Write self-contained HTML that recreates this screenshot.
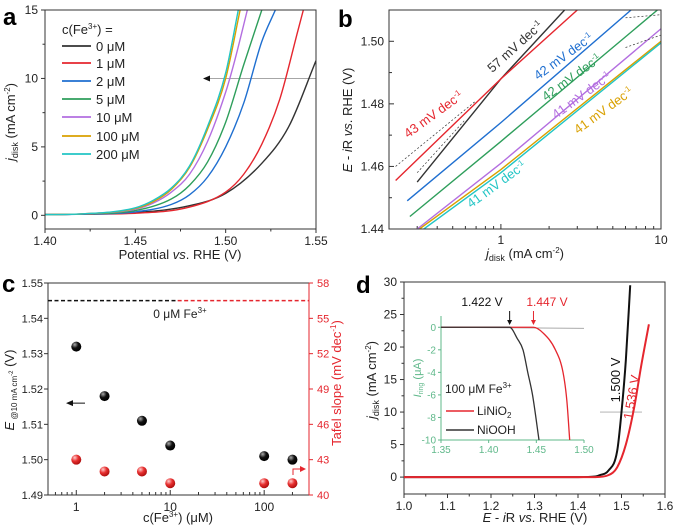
<!DOCTYPE html>
<html><head><meta charset="utf-8"><style>
html,body{margin:0;padding:0;background:#fff;}
svg{display:block;font-family:"Liberation Sans",Arial,sans-serif;}
</style></head><body>
<svg id="fig" width="673" height="532" viewBox="0 0 673 532" xmlns="http://www.w3.org/2000/svg"></svg>
<script>
// ---------- DATA ----------
const aNames = ["0 μM","1 μM","2 μM","5 μM","10 μM","100 μM","200 μM"];
const aE0 = [1.40,1.42,1.45,1.48,1.50,1.52,1.535,1.55];
const aJ0 = [0.05,0.08,0.2,0.7,1.6,3.8,6.5,11.3];
const aE1 = [1.40,1.42,1.45,1.48,1.50,1.51,1.52,1.53,1.54,1.543];
const aJ1 = [0.05,0.08,0.15,0.6,1.7,3.0,5.2,8.5,13.5,15];
const aE2 = [1.40,1.42,1.45,1.47,1.48,1.49,1.50,1.51,1.52,1.5275];
const aJ2 = [0.05,0.08,0.25,0.8,1.5,2.8,5.0,8.2,12.7,15];
const aE5 = [1.40,1.42,1.45,1.47,1.48,1.49,1.50,1.51,1.52];
const aJ5 = [0.05,0.1,0.35,1.2,2.2,3.9,6.8,11,15];
const aE10 = [1.40,1.42,1.45,1.46,1.47,1.48,1.49,1.50,1.505,1.512];
const aJ10 = [0.05,0.1,0.45,0.9,1.7,3.0,5.4,9.0,11.3,15];
const aE100 = [1.40,1.42,1.45,1.46,1.47,1.48,1.49,1.50,1.508];
const aJ100 = [0.05,0.1,0.5,1.0,1.9,3.5,6.3,10.0,15];
const aE200 = [1.40,1.42,1.45,1.46,1.47,1.48,1.49,1.50,1.507];
const aJ200 = [0.05,0.1,0.55,1.1,2.0,3.6,6.5,10.4,15];
const bJ = [[0.3,1,2.5],[0.22,1,3],[0.26,1,6.5],[0.27,1,9.5],[0.3,1,10],[0.31,1,10],[0.33,1,10]];
const bE = [[1.455,1.488,1.51],[1.4555,1.488,1.51],[1.449,1.474,1.51],[1.444,1.468,1.51],[1.44,1.461,1.504],[1.44,1.459,1.50],[1.44,1.458,1.4995]];
const bSlopes = ["57","43","42","42","41","41","41"];
const cConc = [1,2,5,10,100,200];
const cE10 = [1.532,1.518,1.511,1.504,1.501,1.500];
const cTafel = [43,42,42,41,41,41];
const cRefE = 1.545;
const cRefTafel = 56.5;
const dE_Ni = [1.0,1.40,1.44,1.45,1.47,1.49,1.50,1.51,1.52];
const dJ_Ni = [0,0,0.1,0.3,1,4,10,18,29.5];
const dE_Li = [1.0,1.44,1.47,1.49,1.51,1.53,1.545,1.563];
const dJ_Li = [0,0,0.3,1.5,5,11,17,23.5];
const iE_Ni = [1.35,1.42,1.422,1.43,1.436,1.441,1.446,1.4528];
const iI_Ni = [0,0,0,-1.0,-2,-4,-6,-10];
const iE_Li = [1.35,1.447,1.457,1.47,1.478,1.482,1.485];
const iI_Li = [0,0,-0.5,-2,-4,-6.5,-10];

const COL = ["#333333","#e5262e","#1f6fd0","#2e9e5b","#b36ee0","#d9a000","#22c5c5"];
const NS="http://www.w3.org/2000/svg";
const svg=document.getElementById('fig');
function mk(tag,attrs,parent){const e=document.createElementNS(NS,tag);for(const k in attrs)e.setAttribute(k,attrs[k]);(parent||svg).appendChild(e);return e;}
function txt(x,y,s,opt,parent){opt=opt||{};const t=mk('text',{x:x,y:y,'font-size':opt.fs||12,fill:opt.fill||'#222','text-anchor':opt.anchor||'middle'},parent);if(opt.rot!==undefined)t.setAttribute('transform','rotate('+opt.rot+' '+x+' '+y+')');if(opt.weight)t.setAttribute('font-weight',opt.weight);t.innerHTML=s;return t;}
function lin(d0,d1,p0,p1){return v=>p0+(v-d0)/(d1-d0)*(p1-p0);}
function lg(d0,d1,p0,p1){return v=>p0+(Math.log10(v)-Math.log10(d0))/(Math.log10(d1)-Math.log10(d0))*(p1-p0);}
function path(xs,ys,X,Y,color,w,dash,parent){let d='';for(let i=0;i<xs.length;i++)d+=(i?'L':'M')+X(xs[i]).toFixed(2)+' '+Y(ys[i]).toFixed(2);const p=mk('path',{d:d,fill:'none',stroke:color,'stroke-width':w||1.4,'stroke-linejoin':'round'},parent);if(dash)p.setAttribute('stroke-dasharray',dash);return p;}
// monotone cubic in pixel space
function spath(xs,ys,X,Y,color,w,parent){
const px=xs.map(X),py=ys.map(Y),n=px.length;
const dl=[],m=[];
for(let i=0;i<n-1;i++)dl.push((py[i+1]-py[i])/(px[i+1]-px[i]));
m[0]=dl[0];m[n-1]=dl[n-2];
for(let i=1;i<n-1;i++){m[i]=(dl[i-1]*dl[i]<=0)?0:(dl[i-1]+dl[i])/2;}
for(let i=0;i<n-1;i++){if(dl[i]===0){m[i]=0;m[i+1]=0;continue;}const a=m[i]/dl[i],b=m[i+1]/dl[i],s=a*a+b*b;if(s>9){const t=3/Math.sqrt(s);m[i]=t*a*dl[i];m[i+1]=t*b*dl[i];}}
let d='M'+px[0].toFixed(2)+' '+py[0].toFixed(2);
for(let i=0;i<n-1;i++){const h=(px[i+1]-px[i])/3;d+='C'+(px[i]+h).toFixed(2)+' '+(py[i]+m[i]*h).toFixed(2)+' '+(px[i+1]-h).toFixed(2)+' '+(py[i+1]-m[i+1]*h).toFixed(2)+' '+px[i+1].toFixed(2)+' '+py[i+1].toFixed(2);}
return mk('path',{d:d,fill:'none',stroke:color,'stroke-width':w||1.4,'stroke-linejoin':'round'},parent);}
function box(x0,y0,x1,y1,g,col){mk('rect',{x:x0,y:y0,width:x1-x0,height:y1-y0,fill:'none',stroke:col||'#333','stroke-width':1},g);}
function clip(id,x0,y0,x1,y1){const c=mk('clipPath',{id:id});mk('rect',{x:x0,y:y0,width:x1-x0,height:y1-y0},c);return 'url(#'+id+')';}

// ================= PANEL A =================
{
const g=mk('g',{});


const L=45,R=316,T=10,B=229;
const X=lin(1.40,1.55,L,R),Y=lin(-1,15,B,T);
[1.40,1.45,1.50,1.55].forEach(v=>{mk('line',{x1:X(v),x2:X(v),y1:B,y2:B+4,stroke:'#333'},g);txt(X(v),B+16,v.toFixed(2),{},g);});
[1.425,1.475,1.525].forEach(v=>mk('line',{x1:X(v),x2:X(v),y1:B,y2:B+2.5,stroke:'#333'},g));
[0,5,10,15].forEach(v=>{mk('line',{x1:L-4,x2:L,y1:Y(v),y2:Y(v),stroke:'#333'},g);txt(L-7,Y(v)+4,v,{anchor:'end'},g);});
[2.5,7.5,12.5].forEach(v=>mk('line',{x1:L-2.5,x2:L,y1:Y(v),y2:Y(v),stroke:'#333'},g));
const cp=clip('ca',L,T,R,B);
const cg=mk('g',{'clip-path':cp},g);
mk('line',{x1:208,x2:R,y1:Y(10),y2:Y(10),stroke:'#999','stroke-width':0.8},cg);
mk('path',{d:'M203 '+Y(10)+' l7 -3 v6 z',fill:'#111'},g);
const Es=[aE0,aE1,aE2,aE5,aE10,aE100,aE200],Js=[aJ0,aJ1,aJ2,aJ5,aJ10,aJ100,aJ200];
for(let i=0;i<7;i++){const p=spath(Es[i],Js[i],X,Y,COL[i],1.4,cg);

}
box(L,T,R,B,g);
txt(62,34,'c(Fe<tspan font-size="8" dy="-5">3+</tspan><tspan dy="5">) =</tspan>',{anchor:'start',fs:13},g);
const ly=[46,63,81,99,117,136,154];
for(let i=0;i<7;i++){
const le=mk('g',{},g);


mk('line',{x1:62,x2:91,y1:ly[i],y2:ly[i],stroke:COL[i],'stroke-width':1.8},le);
txt(96,ly[i]+5,aNames[i],{anchor:'start',fs:13},le);}
txt(180,259,'Potential <tspan font-style="italic">vs</tspan>. RHE  (V)',{fs:13},g);
txt(15,122,'<tspan font-style="italic">j</tspan><tspan font-size="9" dy="3">disk</tspan><tspan dy="-3">  (mA cm</tspan><tspan font-size="8" dy="-5">-2</tspan><tspan dy="5">)</tspan>',{fs:13,rot:-90},g);
txt(3,25,'a',{fs:24,weight:'bold',anchor:'start',fill:'#000'},g);
}

// ================= PANEL B =================
{
const g=mk('g',{});


const L=389,R=661,T=10,B=229;
const X=lg(0.2,10,L,R),Y=lin(1.44,1.51,B,T);
[1,10].forEach(v=>{txt(X(v),B+15,v,{},g);mk('line',{x1:X(v),x2:X(v),y1:B,y2:B-5,stroke:'#333'},g);});
[0.3,0.4,0.5,0.6,0.7,0.8,0.9,2,3,4,5,6,7,8,9].forEach(v=>mk('line',{x1:X(v),x2:X(v),y1:B,y2:B-3,stroke:'#333'},g));
[1.44,1.46,1.48,1.50].forEach(v=>{mk('line',{x1:L,x2:L+5,y1:Y(v),y2:Y(v),stroke:'#333'},g);txt(L-5,Y(v)+4,v.toFixed(2),{anchor:'end'},g);});
[1.45,1.47,1.49].forEach(v=>mk('line',{x1:L,x2:L+3,y1:Y(v),y2:Y(v),stroke:'#333'},g));
const cg=mk('g',{'clip-path':clip('cb',L,T,R,B)},g);
for(let i=0;i<7;i++){const p=path(bJ[i],bE[i],X,Y,COL[i],1.4,null,cg);

}
path([0.22,0.7],[1.46,1.481],X,Y,'#333',0.7,'2,2',cg);
path([0.3,0.6],[1.458,1.475],X,Y,'#333',0.7,'2,2',cg);
path([6,10],[1.5075,1.5085],X,Y,'#333',0.7,'2,2',cg);
path([6,10],[1.498,1.502],X,Y,'#333',0.7,'2,2',cg);
box(L,T,R,B,g);
const lab=[[518,50,-42],[436,118,-36],[566,60,-36],[574,81,-36],[584,99,-36],[606,114,-36],[499,188,-36]];
for(let i=0;i<7;i++){const t=txt(lab[i][0],lab[i][1],bSlopes[i]+' mV dec<tspan font-size="8" dy="-5">-1</tspan>',{fs:13,fill:COL[i],rot:lab[i][2]},g);

}
txt(525,258,'<tspan font-style="italic">j</tspan><tspan font-size="9" dy="3">disk</tspan><tspan dy="-3">  (mA cm</tspan><tspan font-size="8" dy="-5">-2</tspan><tspan dy="5">)</tspan>',{fs:13},g);
txt(352,120,'<tspan font-style="italic">E</tspan> - <tspan font-style="italic">i</tspan>R <tspan font-style="italic">vs</tspan>. RHE  (V)',{fs:13,rot:-90},g);
txt(338,27,'b',{fs:24,weight:'bold',anchor:'start',fill:'#000'},g);
}

// ================= PANEL C =================
{
const g=mk('g',{});


const L=48,R=309,T=283,B=495;
const X=lg(0.5,300,L,R),Y=lin(1.49,1.55,B,T),Y2=lin(40,58,B,T);
const RED='#e5262e';
[1,10,100].forEach(v=>{mk('line',{x1:X(v),x2:X(v),y1:B,y2:B-5,stroke:'#333'},g);txt(X(v),B+16,v,{},g);});
[0.6,0.7,0.8,0.9,2,3,4,5,6,7,8,9,20,30,40,50,60,70,80,90,200].forEach(v=>mk('line',{x1:X(v),x2:X(v),y1:B,y2:B-3,stroke:'#333'},g));
[1.49,1.50,1.51,1.52,1.53,1.54,1.55].forEach(v=>{mk('line',{x1:L,x2:L-4,y1:Y(v),y2:Y(v),stroke:'#333'},g);txt(L-5,Y(v)+4,v.toFixed(2),{anchor:'end',fs:11},g);});
[40,43,46,49,52,55,58].forEach(v=>{mk('line',{x1:R,x2:R+4,y1:Y2(v),y2:Y2(v),stroke:RED},g);txt(R+8,Y2(v)+4,v,{anchor:'start',fs:11,fill:RED},g);});
mk('line',{x1:L,x2:R,y1:T,y2:T,stroke:'#333'},g);
mk('line',{x1:L,x2:R,y1:B,y2:B,stroke:'#333'},g);
mk('line',{x1:L,x2:L,y1:T,y2:B,stroke:'#333'},g);
mk('line',{x1:R,x2:R,y1:T,y2:B,stroke:RED},g);
mk('line',{x1:L,x2:X(12),y1:Y(cRefE),y2:Y(cRefE),stroke:'#111','stroke-width':1.5,'stroke-dasharray':'4,2.5'},g);
mk('line',{x1:X(12),x2:R,y1:Y2(cRefTafel),y2:Y2(cRefTafel),stroke:RED,'stroke-width':1.5,'stroke-dasharray':'4,2.5'},g);
txt(180,318,'0 μM Fe<tspan font-size="8" dy="-5">3+</tspan>',{fs:12},g);
const defs=mk('defs',{});
const gb=mk('radialGradient',{id:'gb',cx:'0.35',cy:'0.3',r:'0.7'},defs);
mk('stop',{offset:'0','stop-color':'#aaa'},gb);mk('stop',{offset:'0.5','stop-color':'#111'},gb);mk('stop',{offset:'1','stop-color':'#000'},gb);
const gr=mk('radialGradient',{id:'gr',cx:'0.35',cy:'0.3',r:'0.7'},defs);
mk('stop',{offset:'0','stop-color':'#fcc'},gr);mk('stop',{offset:'0.5','stop-color':'#e83030'},gr);mk('stop',{offset:'1','stop-color':'#b01010'},gr);
for(let i=0;i<cConc.length;i++){
const p=mk('circle',{cx:X(cConc[i]),cy:Y(cE10[i]),r:5,fill:'url(#gb)'},g);


const q=mk('circle',{cx:X(cConc[i]),cy:Y2(cTafel[i]),r:5,fill:'url(#gr)'},g);

}
mk('line',{x1:72,x2:85,y1:Y(1.516),y2:Y(1.516),stroke:'#111'},g);
mk('path',{d:'M66 '+Y(1.516)+' l7 -3 v6 z',fill:'#111'},g);
mk('path',{d:'M293 475 v-6 h8',fill:'none',stroke:RED},g);
mk('path',{d:'M306 469 l-6 -3 v6 z',fill:RED},g);
txt(178,522,'c(Fe<tspan font-size="8" dy="-5">3+</tspan><tspan dy="5">)  (μM)</tspan>',{fs:13},g);
txt(14,390,'<tspan font-style="italic">E</tspan><tspan font-size="8" dy="3"> @10 mA cm</tspan><tspan font-size="6" dy="-4">-2</tspan><tspan dy="1">  (V)</tspan>',{fs:13,rot:-90},g);
txt(341,383,'Tafel slope  (mV dec<tspan font-size="8" dy="-5">-1</tspan><tspan dy="5">)</tspan>',{fs:13,rot:-90,fill:RED},g);
txt(2,292,'c',{fs:24,weight:'bold',anchor:'start',fill:'#000'},g);
}

// ================= PANEL D =================
{
const g=mk('g',{});


const L=404,R=665,T=282,B=494;
const X=lin(1.0,1.6,L,R),Y=lin(-2.6,30,B,T);
[1.0,1.1,1.2,1.3,1.4,1.5,1.6].forEach(v=>{mk('line',{x1:X(v),x2:X(v),y1:B,y2:B+4,stroke:'#333'},g);txt(X(v),B+16,v.toFixed(1),{},g);});
[1.05,1.15,1.25,1.35,1.45,1.55].forEach(v=>mk('line',{x1:X(v),x2:X(v),y1:B,y2:B+2.5,stroke:'#333'},g));
[0,5,10,15,20,25,30].forEach(v=>{mk('line',{x1:L,x2:L-4,y1:Y(v),y2:Y(v),stroke:'#333'},g);txt(L-7,Y(v)+4,v,{anchor:'end'},g);});
[2.5,7.5,12.5,17.5,22.5,27.5].forEach(v=>mk('line',{x1:L,x2:L-2.5,y1:Y(v),y2:Y(v),stroke:'#333'},g));
box(L,T,R,B,g);
mk('line',{x1:600,x2:642,y1:Y(10),y2:Y(10),stroke:'#aaa','stroke-width':0.8},g);
let p=spath(dE_Ni,dJ_Ni,X,Y,'#111',2,g);


p=spath(dE_Li,dJ_Li,X,Y,'#e5262e',2,g);


txt(620,380,'1.500 V',{fs:13,rot:-90,fill:'#111'},g);
txt(636,398,'1.536 V',{fs:13,rot:-80,fill:'#e5262e'},g);
const ig=mk('g',{},g);


const GR='#5fb88a';
const iL=441,iR=584,iT=316,iB=440;
const XI=lin(1.35,1.50,iL,iR),YI=lin(-10,1,iB,iT);
mk('line',{x1:iL,x2:iL,y1:iT,y2:iB,stroke:GR},ig);
mk('line',{x1:iL,x2:iR,y1:iB,y2:iB,stroke:GR},ig);
[1.35,1.40,1.45,1.50].forEach(v=>{mk('line',{x1:XI(v),x2:XI(v),y1:iB,y2:iB+3,stroke:GR},ig);txt(XI(v),iB+13,v.toFixed(2),{fs:10,fill:GR},ig);});
[0,-2,-4,-6,-8,-10].forEach(v=>{mk('line',{x1:iL,x2:iL-3,y1:YI(v),y2:YI(v),stroke:GR},ig);txt(iL-5,YI(v)+3.5,v,{fs:10,fill:GR,anchor:'end'},ig);});
mk('line',{x1:XI(1.35),x2:XI(1.50),y1:YI(0),y2:YI(-0.1),stroke:'#aaa','stroke-width':1},ig);
spath(iE_Li,iI_Li,XI,YI,'#e5262e',1.3,ig);
spath(iE_Ni,iI_Ni,XI,YI,'#333',1.3,ig);
mk('line',{x1:XI(1.422),x2:XI(1.422),y1:311,y2:322,stroke:'#111'},ig);
mk('path',{d:'M'+(XI(1.422)-2.5)+' 320 l2.5 5 l2.5 -5 z',fill:'#111'},ig);
mk('line',{x1:XI(1.447),x2:XI(1.447),y1:311,y2:322,stroke:'#e5262e'},ig);
mk('path',{d:'M'+(XI(1.447)-2.5)+' 320 l2.5 5 l2.5 -5 z',fill:'#e5262e'},ig);
txt(482,306,'1.422 V',{fs:12,fill:'#111'},ig);
txt(547,306,'1.447 V',{fs:12,fill:'#e5262e'},ig);
txt(445,393,'100 μM Fe<tspan font-size="8" dy="-5">3+</tspan>',{fs:12,anchor:'start'},ig);
mk('line',{x1:446,x2:474,y1:411,y2:411,stroke:'#e5262e','stroke-width':1.5},ig);
txt(477,415,'LiNiO<tspan font-size="8" dy="3">2</tspan>',{fs:12,anchor:'start'},ig);
mk('line',{x1:446,x2:474,y1:430,y2:430,stroke:'#333','stroke-width':1.5},ig);
txt(477,434,'NiOOH',{fs:12,anchor:'start'},ig);
txt(421,378,'<tspan font-style="italic">I</tspan><tspan font-size="7" dy="2">ring</tspan><tspan dy="-2">  (μA)</tspan>',{fs:11,rot:-90,fill:GR},ig);
txt(535,522,'<tspan font-style="italic">E</tspan> - <tspan font-style="italic">i</tspan>R <tspan font-style="italic">vs</tspan>. RHE  (V)',{fs:13},g);
txt(376,380,'<tspan font-style="italic">j</tspan><tspan font-size="9" dy="3">disk</tspan><tspan dy="-3">  (mA cm</tspan><tspan font-size="8" dy="-5">-2</tspan><tspan dy="5">)</tspan>',{fs:13,rot:-90},g);
txt(356,293,'d',{fs:24,weight:'bold',anchor:'start',fill:'#000'},g);
}
</script>
</body></html>
